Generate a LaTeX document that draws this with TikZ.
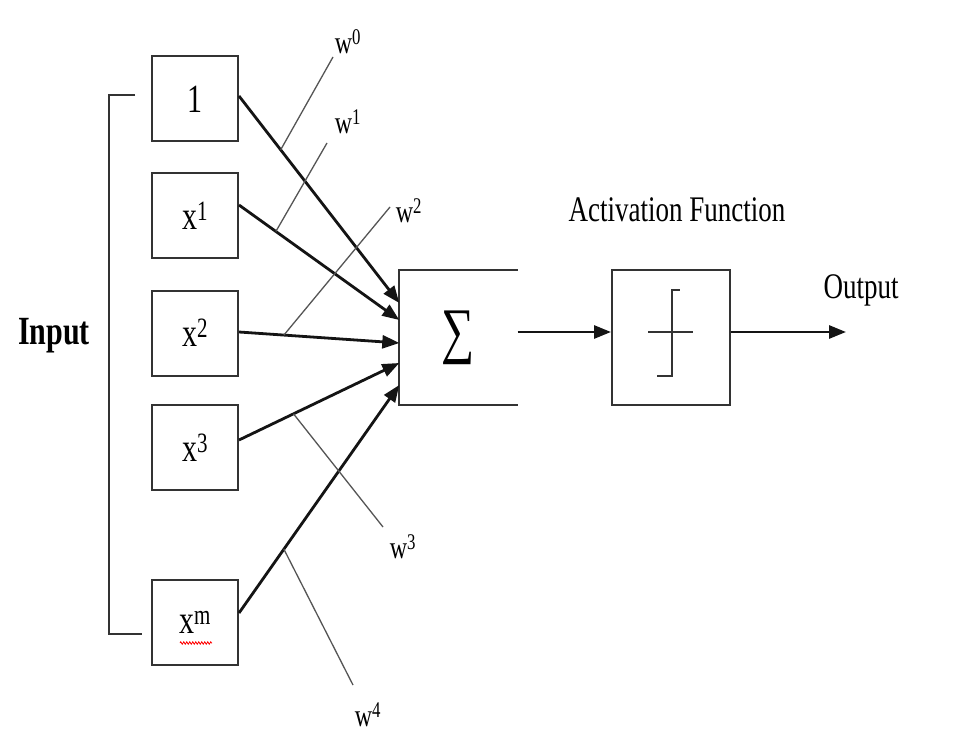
\documentclass[tikz,border=0pt]{standalone}
\usepackage{fontspec}
\setmainfont{Liberation Serif}[FakeStretch=0.75]
\usetikzlibrary{arrows.meta,decorations.pathmorphing}
\definecolor{boxc}{HTML}{333333}
\definecolor{linec}{HTML}{141414}
\definecolor{wc}{HTML}{555555}
\begin{document}
\begin{tikzpicture}[x=1pt,y=1pt,
  inbox/.style={draw=boxc, line width=2pt, minimum width=86pt, minimum height=85pt, inner sep=0pt, font=\fontsize{40}{40}\selectfont},
  bigbox/.style={minimum width=118pt, minimum height=135pt, inner sep=0pt},
  boxline/.style={draw=boxc, line width=2pt},
  conn/.style={draw=linec, line width=2.8pt, -{Triangle[length=17pt,width=13pt]}},
  wline/.style={draw=wc, line width=1.3pt},
  wlab/.style={inner sep=0pt, font=\fontsize{32}{32}\selectfont},
  title/.style={inner sep=0pt, font=\fontsize{36}{36}\selectfont}]
\useasboundingbox[fill=white] (0,0) rectangle (964,-746);

% input boxes
\node[inbox] (b0) at (195,-99) {1};
\node[inbox] (b1) at (195,-215.5) {x\textsuperscript{1}};
\node[inbox] (b2) at (195,-333) {x\textsuperscript{2}};
\node[inbox] (b3) at (195,-447.5) {x\textsuperscript{3}};
\node[inbox] (bm) at (195,-622.5) {x\textsuperscript{m}};
\draw[red, line width=0.8pt, decorate, decoration={zigzag, amplitude=1.2pt, segment length=3pt}]
  ([xshift=-15pt,yshift=-20.5pt]bm.center) -- ([xshift=17pt,yshift=-20.5pt]bm.center);

% bracket and Input label
\coordinate (brt) at ([xshift=-16pt,yshift=4pt]b0.west);
\coordinate (brb) at ([xshift=-9pt,yshift=-11.5pt]bm.west);
\draw[boxline] (brt) -- ++(-26,0) |- (brb);
\node[inner sep=0pt, font=\fontsize{40}{40}\selectfont\bfseries] (inp) at (54,-336) {Input};

% summation box (open on the right)
\node[bigbox, font=\fontsize{62}{62}\selectfont] (sig) at (458.5,-337.5) {∑};
\draw[boxline] (sig.north east) -- (sig.north west) -- (sig.south west) -- (sig.south east);

% activation box
\node[bigbox, draw=boxc, line width=2pt] (act) at (671,-337.5) {};
\draw[boxline] (648,-332) -- (693,-332);
\draw[boxline] (657,-376) -- (672,-376) -- (672,-290) -- (680,-290);
\node[title] (actl) at (677,-210) {Activation Function};
\node[title] (outl) at (861,-290) {Output};
\coordinate (outp) at (846,-332);

% connectors
\draw[conn] ([yshift=3pt]b0.east) -- coordinate[pos=0.26] (w0s) ([yshift=34.5pt]sig.west);
\draw[conn] ([yshift=10.5pt]b1.east) -- coordinate[pos=0.23] (w1s) ([yshift=17.5pt]sig.west);
\draw[conn] ([yshift=1pt]b2.east) -- coordinate[pos=0.28] (w2s) ([yshift=-5.5pt]sig.west);
\draw[conn] ([yshift=7.5pt]b3.east) -- coordinate[pos=0.34] (w3s) ([yshift=-25.5pt]sig.west);
\draw[conn] ([yshift=9.5pt]bm.east) -- coordinate[pos=0.28] (w4s) ([yshift=-47.5pt]sig.west);
\draw[conn] ([yshift=5.5pt]sig.east) -- ([yshift=5.5pt]act.west);
\draw[conn] ([yshift=5.5pt]act.east) -- (outp);

% weights
\coordinate (w0e) at (333,-57);
\coordinate (w1e) at (327,-143);
\coordinate (w2e) at (390,-207);
\coordinate (w3e) at (383,-527);
\coordinate (w4e) at (353,-685);
\draw[wline] (w0s) -- (w0e);
\draw[wline] (w1s) -- (w1e);
\draw[wline] (w2s) -- (w2e);
\draw[wline] (w3s) -- (w3e);
\draw[wline] (w4s) -- (w4e);
\node[wlab] (w0) at (348,-42) {w\textsuperscript{0}};
\node[wlab] (w1) at (348,-122) {w\textsuperscript{1}};
\node[wlab] (w2) at (409,-211) {w\textsuperscript{2}};
\node[wlab] (w3) at (403,-547) {w\textsuperscript{3}};
\node[wlab] (w4) at (368,-715) {w\textsuperscript{4}};
\end{tikzpicture}
\end{document}
